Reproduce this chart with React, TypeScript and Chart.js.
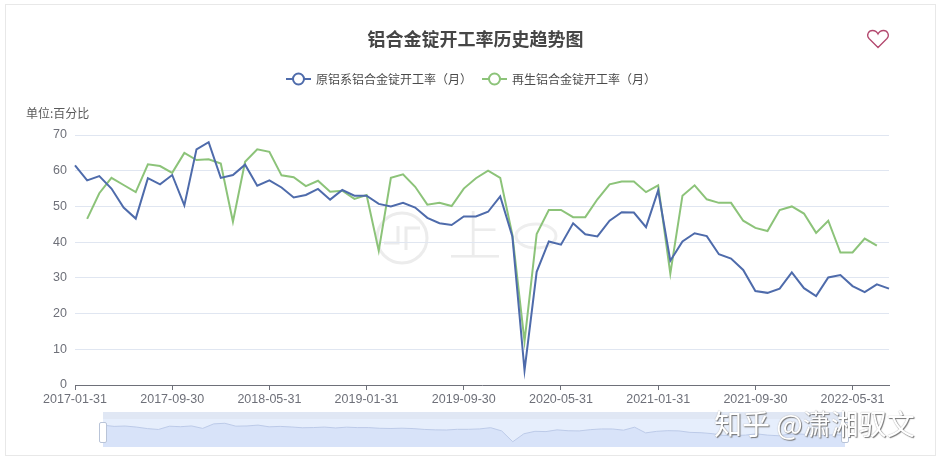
import { useEffect, useRef } from "react";
import { Chart, registerables } from "chart.js";

Chart.register(...registerables);

const dates = [
  "2017-01-31", "2017-02-28", "2017-03-31", "2017-04-30", "2017-05-31", "2017-06-30", "2017-07-31", "2017-08-31",
  "2017-09-30", "2017-10-31", "2017-11-30", "2017-12-31", "2018-01-31", "2018-02-28", "2018-03-31", "2018-04-30",
  "2018-05-31", "2018-06-30", "2018-07-31", "2018-08-31", "2018-09-30", "2018-10-31", "2018-11-30", "2018-12-31",
  "2019-01-31", "2019-02-28", "2019-03-31", "2019-04-30", "2019-05-31", "2019-06-30", "2019-07-31", "2019-08-31",
  "2019-09-30", "2019-10-31", "2019-11-30", "2019-12-31", "2020-01-31", "2020-02-29", "2020-03-31", "2020-04-30",
  "2020-05-31", "2020-06-30", "2020-07-31", "2020-08-31", "2020-09-30", "2020-10-31", "2020-11-30", "2020-12-31",
  "2021-01-31", "2021-02-28", "2021-03-31", "2021-04-30", "2021-05-31", "2021-06-30", "2021-07-31", "2021-08-31",
  "2021-09-30", "2021-10-31", "2021-11-30", "2021-12-31", "2022-01-31", "2022-02-28", "2022-03-31", "2022-04-30",
  "2022-05-31", "2022-06-30", "2022-07-31", "2022-08-31",
];

const primaryRate = [
  61.5, 57.3, 58.5, 55, 49.7, 46.6, 57.9, 56.2, 58.8, 50.3, 66, 68, 58, 58.8, 61.7, 55.8, 57.3, 55.3, 52.5, 53.2,
  54.9, 51.9, 54.6, 53, 53, 50.7, 50, 51, 49.7, 46.8, 45.3, 44.8, 47.2, 47.2, 48.5, 52.8, 41.6, 4.1, 31.7, 40.2,
  39.3, 45.3, 42.2, 41.6, 46, 48.4, 48.3, 44.2, 54.5, 34.8, 40.2, 42.5, 41.7, 36.6, 35.4, 32.2, 26.3, 25.8, 27,
  31.5, 27.1, 24.9, 30.1, 30.8, 27.7, 26, 28.2, 27,
];

const recycledRate = [
  null, 46.5, 53.7, 58, 56, 54, 61.8, 61.3, 59.4, 65, 63, 63.2, 62, 45.7, 62.5, 66, 65.3, 58.7, 58.2, 55.7, 57.2,
  54.1, 54.4, 52.1, 53.2, 37.6, 58, 59, 55.5, 50.5, 51, 50.1, 55, 57.9, 60, 58, 42, 12.2, 42.3, 49, 49, 47, 47, 52,
  56.2, 57, 57, 54, 55.9, 31.2, 53, 55.9, 52, 51, 51, 46, 44, 43.1, 49, 50, 48, 42.6, 46, 37.1, 37.1, 41, 39, null,
];

const seriesNames = ["原铝系铝合金锭开工率（月）", "再生铝合金锭开工率（月）"];
const seriesColors = ["#4e6bab", "#8cc379"];
const tickEvery = 8;

const sans = '"Noto Sans CJK SC", "Liberation Sans", sans-serif';

const App = () => {
  const canvasRef = useRef<HTMLCanvasElement>(null);
  const miniRef = useRef<HTMLCanvasElement>(null);

  useEffect(() => {
    document.body.style.margin = "0";
    if (!canvasRef.current || !miniRef.current) return;

    const chart = new Chart(canvasRef.current, {
      type: "line",
      data: {
        labels: dates,
        datasets: [
          { label: seriesNames[0], data: primaryRate, borderColor: seriesColors[0], backgroundColor: seriesColors[0] },
          { label: seriesNames[1], data: recycledRate, borderColor: seriesColors[1], backgroundColor: seriesColors[1] },
        ],
      },
      options: {
        responsive: false,
        animation: false,
        layout: { padding: { left: 45, top: 135, right: 52, bottom: 50 } },
        elements: { point: { radius: 0 }, line: { borderWidth: 2, tension: 0 } },
        plugins: { legend: { display: false }, title: { display: false } },
        scales: {
          x: {
            afterFit: (scale: any) => { scale.height = 26; },
            afterBuildTicks: (scale: any) => {
              scale.ticks = scale.ticks.filter((t: any) => t.value % tickEvery === 0);
            },
            border: { color: "#6e7079" },
            grid: { drawOnChartArea: false, color: "#6e7079", tickLength: 5 },
            ticks: {
              autoSkip: false,
              maxRotation: 0,
              padding: 2,
              color: "#6e7079",
              font: { family: '"Liberation Sans", sans-serif', size: 12.5 },
            },
          },
          y: {
            afterFit: (scale: any) => { scale.width = 30; },
            min: 0,
            max: 70,
            border: { display: false },
            grid: { color: "#e0e6f1", drawTicks: false },
            ticks: {
              stepSize: 10,
              padding: 8,
              color: "#6e7079",
              font: { family: '"Liberation Sans", sans-serif', size: 12.5 },
            },
          },
        },
      },
    });

    // the overview strip under the chart repeats the first series
    const mini = new Chart(miniRef.current, {
      type: "line",
      data: {
        labels: dates,
        datasets: [
          {
            data: primaryRate,
            borderColor: "#bccae8",
            borderWidth: 1,
            backgroundColor: "#d8e3f9",
            fill: "start",
            pointRadius: 0,
          },
        ],
      },
      options: {
        responsive: false,
        animation: false,
        layout: { padding: 0 },
        plugins: { legend: { display: false }, tooltip: { enabled: false } },
        scales: {
          x: { display: false },
          y: { display: false, min: -14, max: 107 },
        },
      },
    });

    return () => {
      chart.destroy();
      mini.destroy();
    };
  }, []);

  return (
    <div style={{ position: "relative", width: 941, height: 461, overflow: "hidden", background: "#fff", fontFamily: sans }}>
      <div style={{ position: "absolute", left: 5, top: 4, width: 929, height: 450, border: "1px solid #e8e8e8" }} />

      {/* pale site mark behind the lines */}
      <svg width={941} height={461} style={{ position: "absolute", left: 0, top: 0 }}>
        <circle cx={402} cy={238} r={25} fill="none" stroke="#ececec" strokeWidth={3} />
        <path d="M384 243 H398 V226 M406 250 V228 H420" fill="none" stroke="#ececec" strokeWidth={3} />
        <text x={475} y={256} textAnchor="middle" fontSize={54} fontWeight={300} fill="#ececec" fontFamily={sans}>上</text>
        <ellipse cx={536} cy={236} rx={20} ry={12} fill="none" stroke="#eeeeee" strokeWidth={3} />
      </svg>

      <canvas ref={canvasRef} width={941} height={461} style={{ position: "absolute", left: 0, top: 0 }} />

      <div style={{ position: "absolute", left: 0, width: 951, top: 26, textAlign: "center", fontSize: 18, lineHeight: "24px", fontWeight: 700, color: "#464646" }}>
        铝合金锭开工率历史趋势图
      </div>

      <svg width={24} height={20} viewBox="0 0 24 20" style={{ position: "absolute", left: 866, top: 29 }}>
        <path
          d="M12 18.5 L3 9.5 C0 6 2.5 1.5 6.5 1.5 C9 1.5 11 3 12 5 C13 3 15 1.5 17.5 1.5 C21.5 1.5 24 6 21 9.5 Z"
          fill="none"
          stroke="#b3486e"
          strokeWidth={1.3}
        />
      </svg>

      {seriesNames.map((name, i) => (
        <div key={name} style={{ position: "absolute", left: i === 0 ? 286 : 482, top: 71, height: 16, display: "flex", alignItems: "center" }}>
          <svg width={25} height={14} style={{ display: "block" }}>
            <line x1={0} x2={25} y1={7} y2={7} stroke={seriesColors[i]} strokeWidth={2} />
            <circle cx={12.5} cy={7} r={5.5} fill="#fff" stroke={seriesColors[i]} strokeWidth={2} />
          </svg>
          <span style={{ marginLeft: 5, fontSize: 12, lineHeight: "16px", color: "#4a4a4a", whiteSpace: "nowrap" }}>{name}</span>
        </div>
      ))}

      <div style={{ position: "absolute", left: 26, top: 105, fontSize: 12, lineHeight: "16px", color: "#5a5a5a" }}>单位:百分比</div>

      {/* overview strip */}
      <div style={{ position: "absolute", left: 103, top: 412, width: 742, height: 35, background: "#e6eefc" }}>
        <canvas ref={miniRef} width={742} height={35} style={{ position: "absolute", left: 0, top: 0 }} />
        <div style={{ position: "absolute", left: 0, top: 0, width: 742, height: 7, background: "#e0e7f4" }} />
        <div style={{ position: "absolute", left: -4, top: 10, width: 6, height: 19, background: "#fff", border: "1px solid #b9c4d8", borderRadius: 2 }} />
        <div style={{ position: "absolute", left: 738, top: 10, width: 6, height: 19, background: "#fff", border: "1px solid #b9c4d8", borderRadius: 2 }} />
      </div>

      {/* site watermark */}
      <div style={{ position: "absolute", left: 714, top: 406, fontSize: 28, lineHeight: "34px", color: "#fff", whiteSpace: "nowrap", textShadow: "1px 1px 1px #777, 0 0 1px #999" }}>
        知乎 @潇湘驭文
      </div>
    </div>
  );
};

export default App;
